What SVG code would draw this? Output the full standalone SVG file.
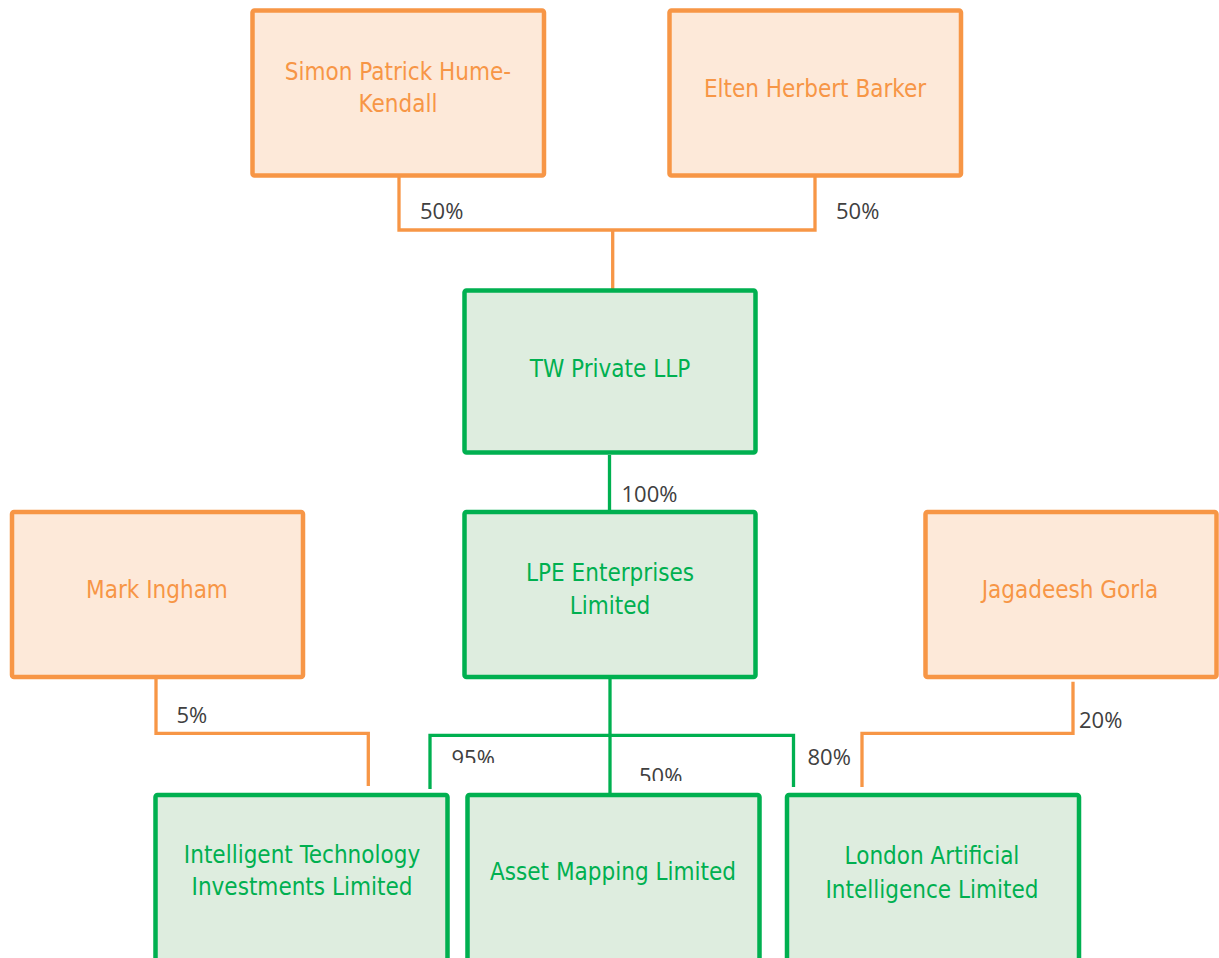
<svg xmlns="http://www.w3.org/2000/svg" width="1219" height="958" viewBox="0 0 1219 958">
<style>
.op rect{fill:#FDE9D9;stroke:#F79646;stroke-width:4.5}
.gr rect{fill:#DEEDDF;stroke:#00B050;stroke-width:4.5}
.op text{fill:#F79646}
.gr text{fill:#00B050}
text.n{font-family:"DejaVu Sans Condensed","DejaVu Sans",sans-serif;font-size:24px;text-anchor:middle}
.oc{fill:none;stroke:#F79646;stroke-width:3.3}
.gc{fill:none;stroke:#00B050;stroke-width:3.3}
.lb{font-family:"Open Sans",sans-serif;font-size:22px;fill:#404040}
</style>
<defs>
<clipPath id="c95"><rect x="440" y="740" width="80" height="23"/></clipPath>
<clipPath id="c50"><rect x="620" y="755" width="80" height="26"/></clipPath>
</defs>
<g id="connectors">
<path class="oc" d="M399,177 V230 H815 V177"/>
<path class="oc" d="M612.7,230 V290"/>
<path class="gc" d="M609.5,455 V512"/>
<path class="gc" d="M610,678 V793"/>
<path class="gc" d="M430,789 V735.3 H793.5 V787"/>
<path class="oc" d="M156,678 V733.3 H368.3 V786"/>
<path class="oc" d="M1073,681.7 V733.3 H862 V787"/>
</g>
<g id="simon" class="op"><rect x="252.5" y="10.5" width="291.5" height="165" rx="2"/><text class="n" x="398" y="80">Simon Patrick Hume-</text><text class="n" x="398" y="112">Kendall</text></g>
<g id="elten" class="op"><rect x="669.5" y="10.5" width="291.5" height="165" rx="2"/><text class="n" x="815" y="97">Elten Herbert Barker</text></g>
<g id="tw" class="gr"><rect x="464.5" y="290.5" width="291" height="162" rx="2"/><text class="n" x="610" y="377">TW Private LLP</text></g>
<g id="lpe" class="gr"><rect x="464.5" y="512" width="291" height="165" rx="2"/><text class="n" x="610" y="581">LPE Enterprises</text><text class="n" x="610" y="614">Limited</text></g>
<g id="mark" class="op"><rect x="12" y="512" width="291" height="165" rx="2"/><text class="n" x="157" y="598">Mark Ingham</text></g>
<g id="jagadeesh" class="op"><rect x="925.5" y="512" width="291" height="165" rx="2"/><text class="n" x="1070" y="598">Jagadeesh Gorla</text></g>
<g id="iti" class="gr"><rect x="155.5" y="795" width="292" height="200" rx="2"/><text class="n" x="302" y="863">Intelligent Technology</text><text class="n" x="302" y="895">Investments Limited</text></g>
<g id="asset" class="gr"><rect x="467.5" y="795" width="292" height="200" rx="2"/><text class="n" x="613" y="880">Asset Mapping Limited</text></g>
<g id="london" class="gr"><rect x="787" y="795" width="292" height="200" rx="2"/><text class="n" x="932" y="864">London Artificial</text><text class="n" x="932" y="898">Intelligence Limited</text></g>
<g id="labels">
<text class="lb" x="420" y="219">50%</text>
<text class="lb" x="836" y="219">50%</text>
<text class="lb" x="621.5" y="502">100%</text>
<text class="lb" x="176.5" y="722.5">5%</text>
<text class="lb" x="451.5" y="766" clip-path="url(#c95)">95%</text>
<rect x="618" y="760" width="117" height="32" fill="#FFFFFF"/>
<text class="lb" x="639" y="784" clip-path="url(#c50)">50%</text>
<text class="lb" x="807.5" y="765">80%</text>
<text class="lb" x="1079" y="728">20%</text>
</g>
</svg>
